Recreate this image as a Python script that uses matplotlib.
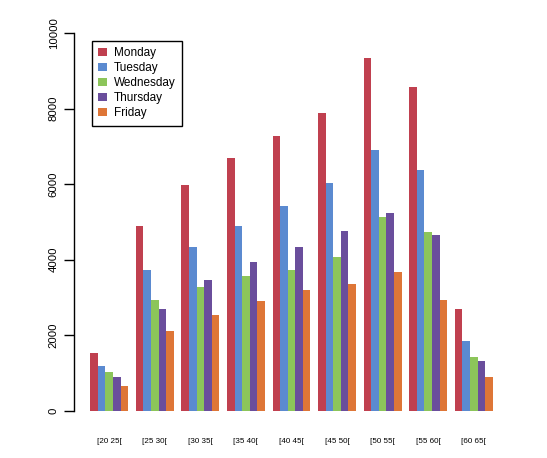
import numpy as np
import matplotlib.pyplot as plt

plt.rcParams['font.family'] = ['Liberation Sans', 'DejaVu Sans']

# tranches d'age et effectifs par jour
groups = ['[20 25[', '[25 30[', '[30 35[', '[35 40[', '[40 45[',
          '[45 50[', '[50 55[', '[55 60[', '[60 65[']
days = ['Monday', 'Tuesday', 'Wednesday', 'Thursday', 'Friday']
monday = [1510, 4900, 5970, 6680, 7270, 7880, 9330, 8570, 2680]
tuesday = [1170, 3710, 4320, 4880, 5410, 6020, 6890, 6360, 1830]
wednesday = [1010, 2940, 3260, 3550, 3710, 4060, 5120, 4720, 1410]
thursday = [900, 2680, 3450, 3930, 4320, 4750, 5220, 4640, 1300]
friday = [660, 2100, 2530, 2890, 3180, 3340, 3660, 2940, 900]
colors = ['#C0404F', '#5B8AD0', '#8CC55A', '#6A4E9C', '#DE7637']

series = [monday, tuesday, wednesday, thursday, friday]

fig = plt.figure(figsize=(5.47, 4.58), dpi=100)
ax = fig.add_axes([74 / 547, 1 - 425.6 / 458, 435 / 547, (425.6 - 17.9) / 458])

# disposition a la barplot(beside=TRUE): 5 barres + 1 espace par groupe
n = len(days)
for i, (vals, col) in enumerate(zip(series, colors)):
    x = np.arange(len(groups)) * (n + 1) + 1 + i
    ax.bar(x, vals, width=1, align='edge', color=col, edgecolor='none', label=days[i])

ax.set_xlim(-1.12, 56.12)
ax.set_ylim(-400, 10400)

centers = np.arange(len(groups)) * (n + 1) + 1 + n / 2
ax.set_xticks(centers)
ax.set_xticklabels(groups, fontsize=5.8)
ax.tick_params(axis='x', length=0, pad=9)

ax.set_yticks([0, 2000, 4000, 6000, 8000, 10000])
ax.set_yticklabels(['0', '2000', '4000', '6000', '8000', '10000'],
                   rotation=90, va='center', fontsize=8.2)
ax.tick_params(axis='y', length=7, width=1, pad=4)

for s in ['top', 'right', 'bottom']:
    ax.spines[s].set_visible(False)
ax.spines['left'].set_bounds(0, 10000)
ax.spines['left'].set_linewidth(1)

leg = ax.legend(loc='upper left', bbox_to_anchor=(92 / 547, 1 - 41 / 458),
                bbox_transform=fig.transFigure, fontsize=8.5, frameon=True,
                fancybox=False, edgecolor='black', framealpha=1,
                handlelength=0.7, handleheight=0.7, handletextpad=0.6,
                labelspacing=0.25, borderpad=0.55, borderaxespad=0)
leg.get_frame().set_linewidth(1)

fig.savefig('out.png', dpi=100)
